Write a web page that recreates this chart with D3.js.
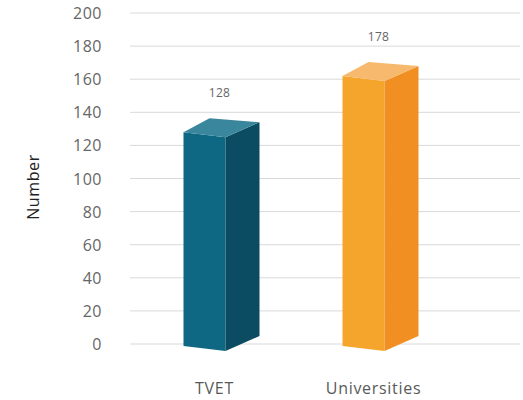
<!DOCTYPE html>
<html>
<head>
<meta charset="utf-8">
<script src="https://d3js.org/d3.v7.min.js"></script>
<style>
  body { margin: 0; background: #fff; }
  text { font-family: "Open Sans", sans-serif; }
</style>
</head>
<body>
<svg id="chart" width="523" height="400"></svg>
<script>
// categories and values
var categories = ["TVET", "Universities"]
var labels = [128, 178]          // printed data labels
var heights = [128, 162]         // bar heights as drawn against the axis
var ticks = [0, 20, 40, 60, 80, 100, 120, 140, 160, 180, 200]

var fronts = ["#0f6883", "#f5a52c"]
var sides = ["#0b4c62", "#f28f22"]
var tops = ["#3a869c", "#f6b96e"]

var svg = d3.select("#chart")

var y = d3.scaleLinear()
  .domain([0, 200])
  .range([344, 13])

var x = d3.scaleBand()
  .domain(categories)
  .range([135, 453])

// gridlines
svg.append("g")
  .selectAll("line")
  .data(ticks)
  .join("line")
    .attr("x1", 130)
    .attr("x2", 520)
    .attr("y1", d => y(d))
    .attr("y2", d => y(d))
    .attr("stroke", "#d9d9d9")
    .attr("stroke-width", 1)

// y tick labels
svg.append("g")
  .selectAll("text")
  .data(ticks)
  .join("text")
    .attr("x", 102)
    .attr("y", d => y(d) + 6)
    .attr("text-anchor", "end")
    .style("font-size", "16px")
    .style("letter-spacing", "0.5px")
    .style("fill", "#666")
    .text(d => d)

svg.append("text")
  .attr("transform", "translate(39,187) rotate(-90)")
  .attr("text-anchor", "middle")
  .style("font-size", "16px")
  .style("letter-spacing", "0.6px")
  .style("fill", "#222")
  .text("Number")

// 3d bars
var w = 42, dx = 34, dy = -15, slope = 5
var bars = svg.append("g")
  .selectAll("g")
  .data(categories)
  .join("g")

function left(i) { return x(categories[i]) + x.bandwidth() / 2 - 31 }

bars.each(function(c, i) {
  var g = d3.select(this)
  var x0 = left(i), x1 = x0 + w
  var yt = y(heights[i]), yb = y(0) + 2
  // front
  g.append("path")
    .attr("d", d3.line()([[x0, yt], [x1, yt + slope], [x1, yb + slope], [x0, yb]]))
    .attr("fill", fronts[i])
  // right side
  g.append("path")
    .attr("d", d3.line()([[x1, yt + slope], [x1 + dx, yt + slope + dy], [x1 + dx, yb + slope + dy], [x1, yb + slope]]))
    .attr("fill", sides[i])
  // top
  g.append("path")
    .attr("d", d3.line()([[x0, yt], [x1, yt + slope], [x1 + dx, yt + slope + dy], [x0 + dx - 8, yt + dy + 1]]))
    .attr("fill", tops[i])
})

// data labels
svg.append("g")
  .selectAll("text")
  .data(categories)
  .join("text")
    .attr("x", (d, i) => left(i) + 36)
    .attr("y", (d, i) => y(heights[i]) - 35)
    .attr("text-anchor", "middle")
    .style("font-size", "12px")
    .style("letter-spacing", "0.3px")
    .style("fill", "#666")
    .text((d, i) => labels[i])

// category labels
svg.append("g")
  .selectAll("text")
  .data(categories)
  .join("text")
    .attr("x", d => x(d) + x.bandwidth() / 2)
    .attr("y", 394)
    .attr("text-anchor", "middle")
    .style("font-size", "16px")
    .style("letter-spacing", "0.7px")
    .style("fill", "#595959")
    .text(d => d)
</script>
</body>
</html>
